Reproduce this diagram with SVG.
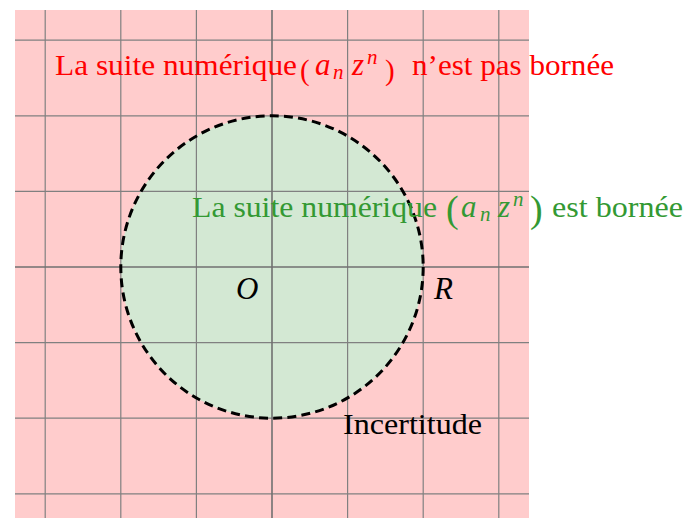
<svg xmlns="http://www.w3.org/2000/svg" width="687" height="518" viewBox="0 0 687 518">
  <style>
    .grid { stroke: #808080; stroke-width: 1.2; fill: none; }
    .axis { stroke: #707070; stroke-width: 1.6; fill: none; }
    svg text { font-family: 'Liberation Serif', serif !important; }
  </style>
  <rect x="0" y="0" width="687" height="518" fill="#ffffff"/>
  <g id="region-unbounded">
    <rect x="15" y="10" width="514" height="508" fill="#ffcccc"/>
  </g>
  <g id="region-bounded">
    <circle cx="272" cy="267" r="151.2" fill="#d3e8d3"/>
  </g>
  <g id="grid">
    <line class="grid" x1="45.2" y1="10" x2="45.2" y2="518"/>
    <line class="grid" x1="120.8" y1="10" x2="120.8" y2="518"/>
    <line class="grid" x1="196.4" y1="10" x2="196.4" y2="518"/>
    <line class="grid" x1="347.6" y1="10" x2="347.6" y2="518"/>
    <line class="grid" x1="423.2" y1="10" x2="423.2" y2="518"/>
    <line class="grid" x1="498.8" y1="10" x2="498.8" y2="518"/>
    <line class="grid" x1="15" y1="40.2" x2="529" y2="40.2"/>
    <line class="grid" x1="15" y1="115.8" x2="529" y2="115.8"/>
    <line class="grid" x1="15" y1="191.4" x2="529" y2="191.4"/>
    <line class="grid" x1="15" y1="342.6" x2="529" y2="342.6"/>
    <line class="grid" x1="15" y1="418.2" x2="529" y2="418.2"/>
    <line class="grid" x1="15" y1="493.8" x2="529" y2="493.8"/>
    <line class="axis" x1="272" y1="10" x2="272" y2="518"/>
    <line class="axis" x1="15" y1="267" x2="529" y2="267"/>
  </g>
  <g id="boundary">
    <circle cx="272" cy="267" r="151.2" fill="none" stroke="#000000" stroke-width="3" stroke-dasharray="9 5.2"/>
  </g>
  <g id="label-unbounded" fill="#ff0000">
    <text x="55" y="75" textLength="242" lengthAdjust="spacingAndGlyphs" style="font-family:'Liberation Serif',serif;font-size:29px">La suite numérique</text>
    <text x="300" y="80" style="font-family:'Liberation Serif',serif;font-size:29px">(</text>
    <text x="315" y="75" style="font-family:'Liberation Serif',serif;font-size:31px;font-style:italic">a</text>
    <text x="333" y="79" style="font-family:'Liberation Serif',serif;font-size:21px;font-style:italic">n</text>
    <text x="352" y="75" style="font-family:'Liberation Serif',serif;font-size:31px;font-style:italic">z</text>
    <text x="367" y="64" style="font-family:'Liberation Serif',serif;font-size:21px;font-style:italic">n</text>
    <text x="385" y="80" style="font-family:'Liberation Serif',serif;font-size:29px">)</text>
    <text x="412" y="75" textLength="202" lengthAdjust="spacingAndGlyphs" style="font-family:'Liberation Serif',serif;font-size:29px">n’est pas bornée</text>
  </g>
  <g id="label-bounded" fill="#339933">
    <text x="192" y="217" textLength="245" lengthAdjust="spacingAndGlyphs" style="font-family:'Liberation Serif',serif;font-size:29px">La suite numérique</text>
    <text x="446" y="222" style="font-family:'Liberation Serif',serif;font-size:38px">(</text>
    <text x="461" y="217" style="font-family:'Liberation Serif',serif;font-size:31px;font-style:italic">a</text>
    <text x="480" y="221" style="font-family:'Liberation Serif',serif;font-size:21px;font-style:italic">n</text>
    <text x="498" y="217" style="font-family:'Liberation Serif',serif;font-size:31px;font-style:italic">z</text>
    <text x="513" y="206" style="font-family:'Liberation Serif',serif;font-size:21px;font-style:italic">n</text>
    <text x="530" y="222" style="font-family:'Liberation Serif',serif;font-size:38px">)</text>
    <text x="552" y="217" textLength="131" lengthAdjust="spacingAndGlyphs" style="font-family:'Liberation Serif',serif;font-size:29px">est bornée</text>
  </g>
  <g id="label-O" fill="#000000">
    <text x="236" y="299" style="font-family:'Liberation Serif',serif;font-size:31px;font-style:italic">O</text>
  </g>
  <g id="label-R" fill="#000000">
    <text x="434" y="299" style="font-family:'Liberation Serif',serif;font-size:31px;font-style:italic">R</text>
  </g>
  <g id="label-incertitude" fill="#000000">
    <text x="343" y="434" textLength="139" lengthAdjust="spacingAndGlyphs" style="font-family:'Liberation Serif',serif;font-size:29px">Incertitude</text>
  </g>
</svg>
